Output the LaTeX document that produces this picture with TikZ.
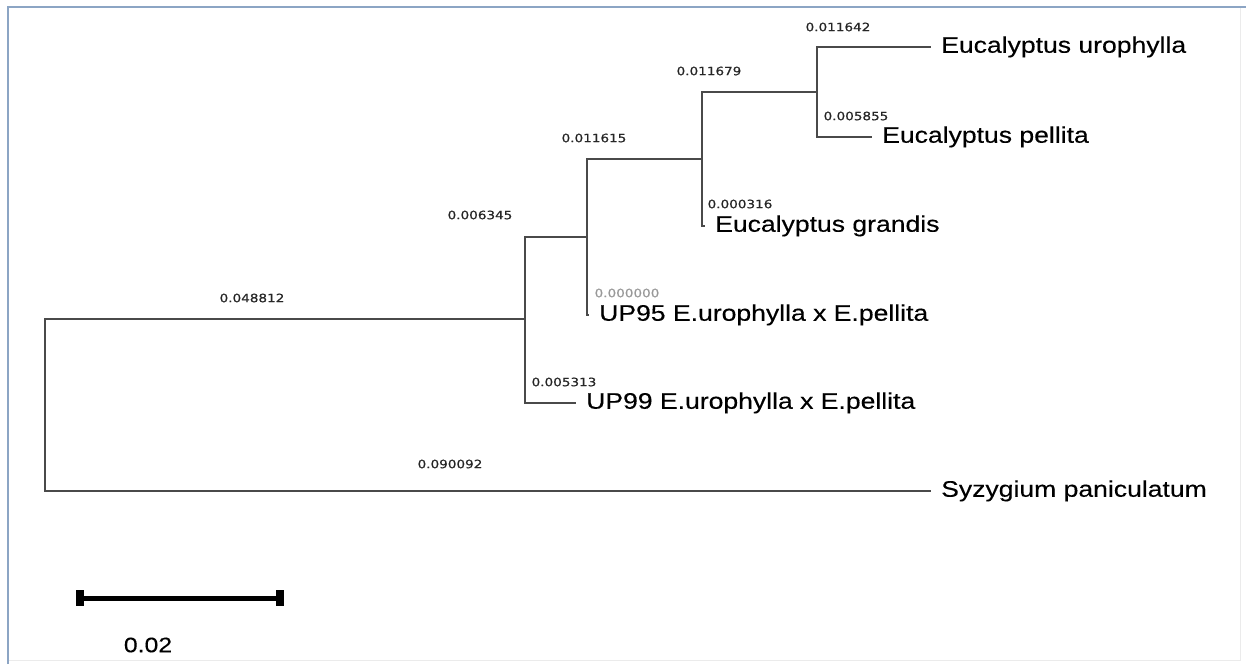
\documentclass[tikz,border=0pt]{standalone}
\usepackage{fontspec}
\newfontfamily\taxonfont[FakeStretch=1.18, FakeBold=0.3]{Liberation Sans}
\newfontfamily\lengthfont[FakeStretch=1.18, FakeBold=0.6]{DejaVu Sans}
\definecolor{framecol}{HTML}{8CA5C4}
\definecolor{edgecol}{HTML}{4A4A4A}

\begin{document}
\begin{tikzpicture}[x=1pt,y=-1pt,
	taxon/.style={anchor=west, inner xsep=10pt, inner ysep=0pt, font=\taxonfont\fontsize{22.5}{26}\selectfont, text height=16pt, text depth=4.5pt},
	blen/.style={font=\lengthfont\fontsize{11.5}{13}\selectfont, text=black!85, inner sep=0pt},
	branch/.style={draw=edgecol, line width=1.4pt}]
	\useasboundingbox (0,0) rectangle (1246,664);
	\draw[black!8, line width=1pt] (1240,7) -- (1240,660) -- (8,660);
	\draw[framecol, line width=2.5pt] (8,664) -- (8,7) -- (1246,7);
	% inner nodes
	\coordinate (root) at (45,405);
	\coordinate (n1) at (525,319);
	\coordinate (n2) at (587,237);
	\coordinate (n3) at (702,159);
	\coordinate (n4) at (817,92);
	% leaves
	\draw (931,47) node[taxon](uro) {Eucalyptus urophylla};
	\draw (872,137) node[taxon](pel) {Eucalyptus pellita};
	\draw (705,226) node[taxon](gra) {Eucalyptus grandis};
	\draw (589,315) node[taxon](up95) {UP95 E.urophylla x E.pellita};
	\draw (576,403) node[taxon](up99) {UP99 E.urophylla x E.pellita};
	\draw (931,491) node[taxon](syz) {Syzygium paniculatum};
	\draw[branch] (root) |- (n1);
	\draw[branch] (root) |- (syz.west);
	\draw[branch] (n1) |- (n2);
	\draw[branch] (n1) |- (up99.west);
	\draw[branch] (n2) |- (n3);
	\draw[branch] (n2) |- (up95.west);
	\draw[branch] (n3) |- (n4);
	\draw[branch] (n3) |- (gra.west);
	\draw[branch] (n4) |- (uro.west);
	\draw[branch] (n4) |- (pel.west);
	% branch lengths
	\draw (838,27) node[blen](b1) {0.011642};
	\draw (856,116) node[blen](b2) {0.005855};
	\draw (709,71) node[blen](b3) {0.011679};
	\draw (740,204) node[blen](b4) {0.000316};
	\draw (594,138) node[blen](b5) {0.011615};
	\draw (627,293) node[blen, text=black!40](b6) {0.000000};
	\draw (480,215) node[blen](b7) {0.006345};
	\draw (564,382) node[blen](b8) {0.005313};
	\draw (252,298) node[blen](b9) {0.048812};
	\draw (450,464) node[blen](b10) {0.090092};
	% scale bar
	\coordinate (sbl) at (80,598);
	\coordinate (sbr) at (280,598);
	\draw[line width=5pt] (sbl) -- (sbr);
	\fill (76,590) rectangle (84,606);
	\fill (276,590) rectangle (284,606);
	\draw (148,645) node[font=\taxonfont\fontsize{21}{24}\selectfont, inner sep=0pt](sbtext) {0.02};
\end{tikzpicture}
\end{document}
